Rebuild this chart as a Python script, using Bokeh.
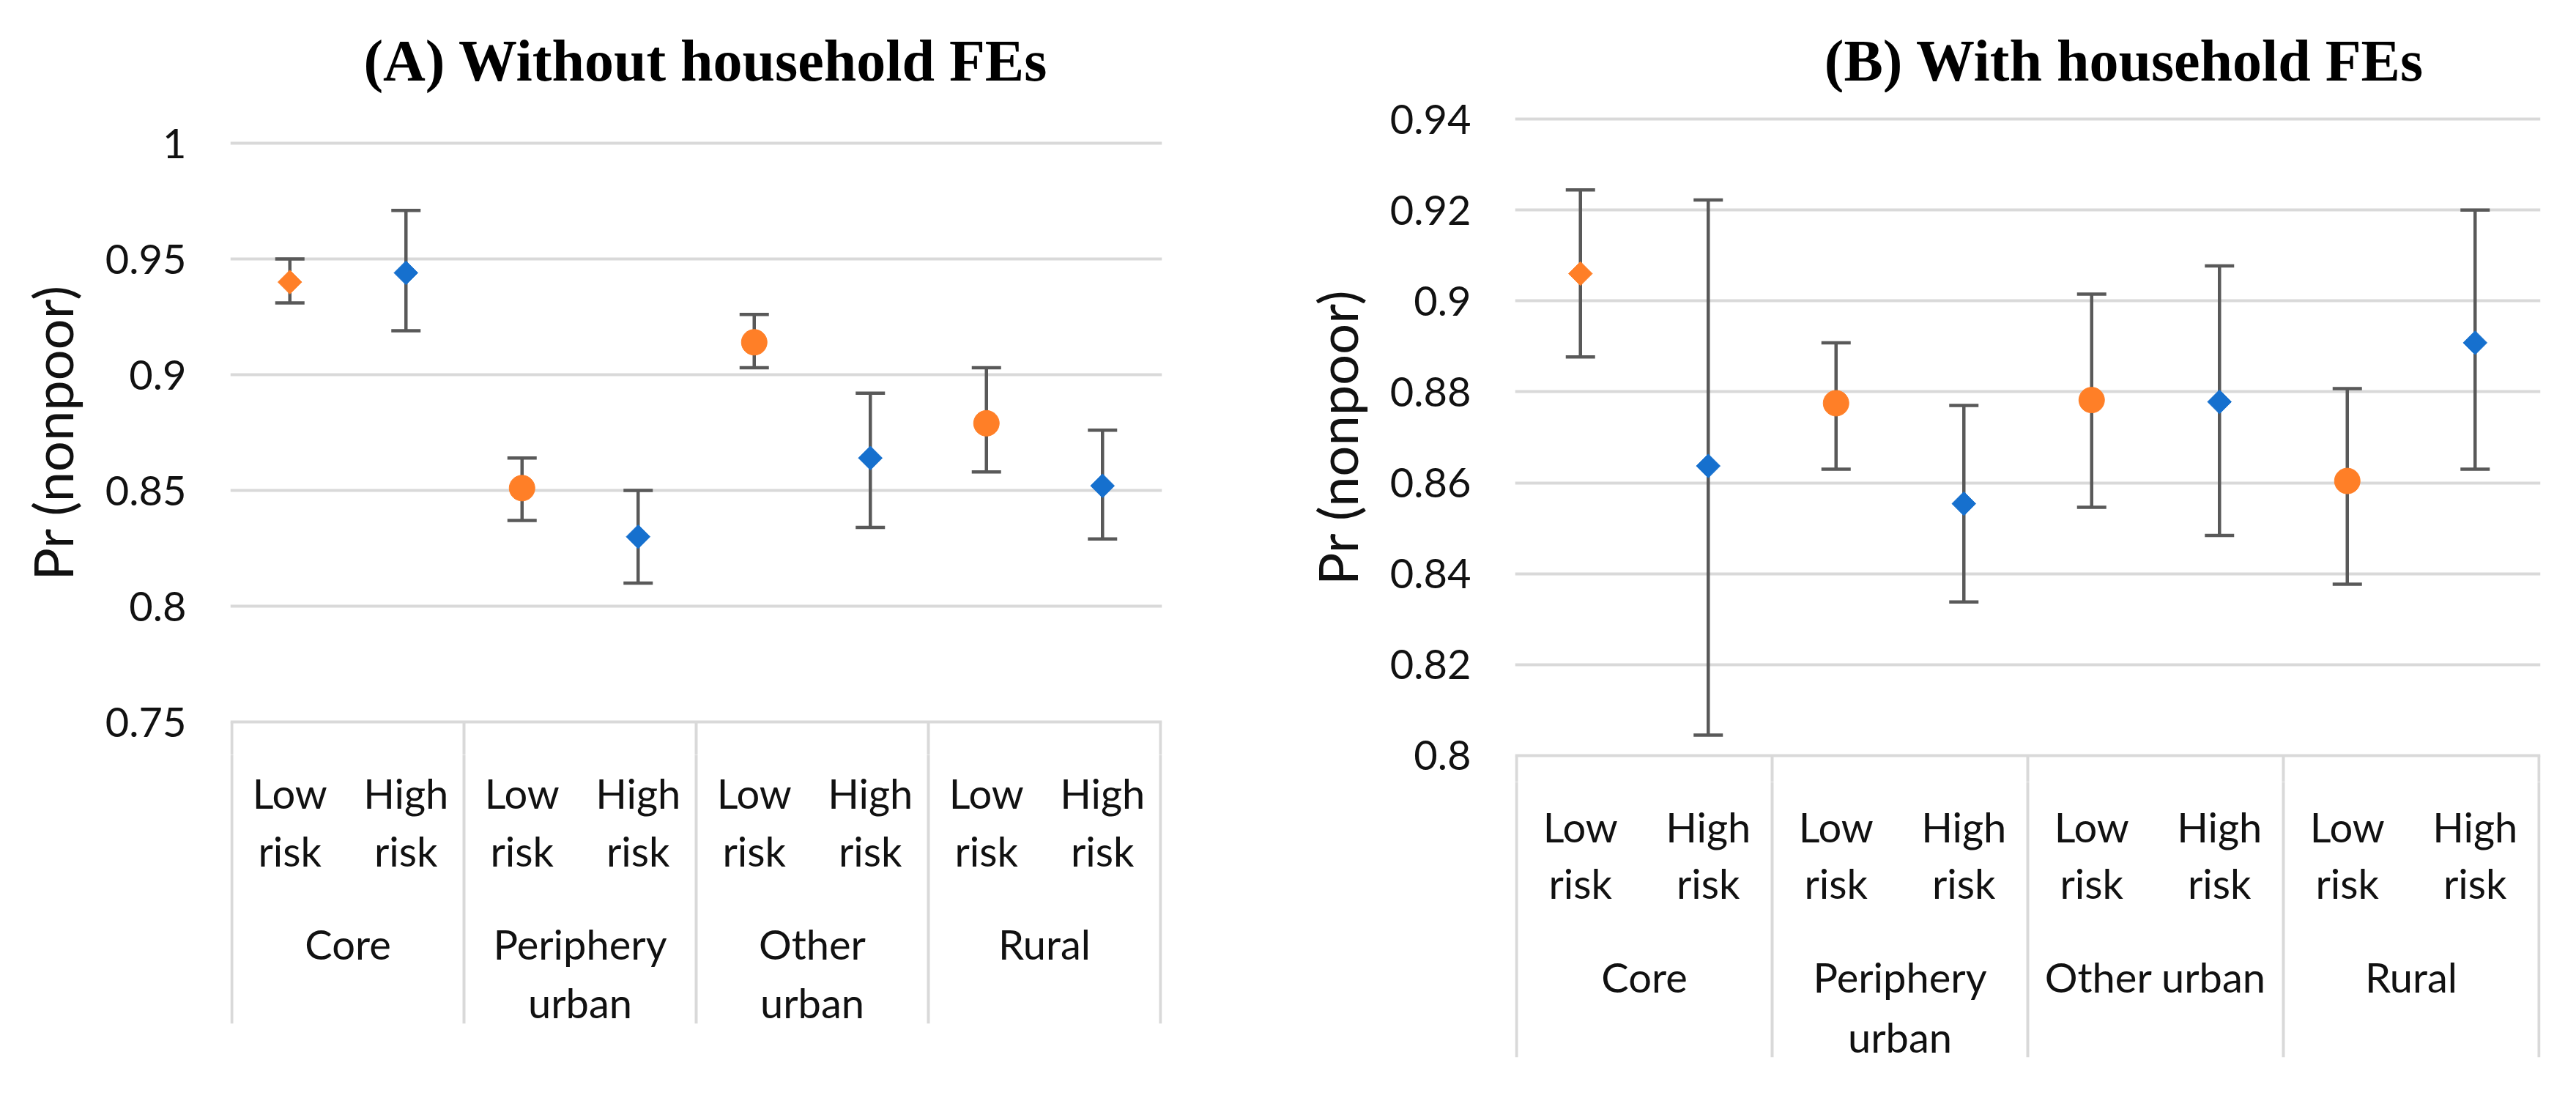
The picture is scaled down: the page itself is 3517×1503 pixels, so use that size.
import numpy as np
from bokeh.plotting import figure
from bokeh.models import Range1d, FixedTicker, ColumnDataSource, Whisker, TeeHead
from bokeh.layouts import row, column
from bokeh.embed import file_html
from bokeh.resources import INLINE
from bokeh.core.properties import value

# ---------------- data ----------------
groups = ["Core", "Periphery urban", "Other urban", "Rural"]
risks = ["Low risk", "High risk"]

title_a = "(A) Without household FEs"
est_a = [0.940, 0.944, 0.851, 0.830, 0.914, 0.864, 0.879, 0.852]
lo_a = [0.931, 0.919, 0.837, 0.810, 0.903, 0.834, 0.858, 0.829]
hi_a = [0.950, 0.971, 0.864, 0.850, 0.926, 0.892, 0.903, 0.876]
ticks_a = [0.75, 0.80, 0.85, 0.90, 0.95, 1.00]
tick_labels_a = ["0.75", "0.8", "0.85", "0.9", "0.95", "1"]

title_b = "(B) With household FEs"
est_b = [0.906, 0.8637, 0.8775, 0.8554, 0.8782, 0.8778, 0.8604, 0.8908]
lo_b = [0.8877, 0.8045, 0.8630, 0.8338, 0.8546, 0.8484, 0.8377, 0.8630]
hi_b = [0.9244, 0.9222, 0.8908, 0.8770, 0.9015, 0.9077, 0.8807, 0.9200]
ticks_b = [0.80, 0.82, 0.84, 0.86, 0.88, 0.90, 0.92, 0.94]
tick_labels_b = ["0.8", "0.82", "0.84", "0.86", "0.88", "0.9", "0.92", "0.94"]

y_label = "Pr (nonpoor)"

# marker shape per point (style)
shapes = ["diamond", "diamond", "circle", "diamond", "circle", "diamond", "circle", "diamond"]

# ---------------- style ----------------
ORANGE = "#FF7F27"
BLUE = "#1670CE"
ERR = "#595959"
GRID = "#D9D9D9"
TXT = "#111111"
SANS = "Lato"
SERIF = "Liberation Serif"
PAGE_TOP = 8    # page margin
TOTAL_H = 1487


def wrap(label, max_chars):
    words = label.split(" ")
    lines, cur = [], ""
    for w in words:
        cand = w if not cur else cur + " " + w
        if len(cand) <= max_chars:
            cur = cand
        else:
            if cur:
                lines.append(cur)
            cur = w
    if cur:
        lines.append(cur)
    return lines


def bare(width, height, x_range, y_range, bl=0, br=0, bb=0):
    f = figure(width=width, height=height, x_range=x_range, y_range=y_range,
               x_axis_location=None, y_axis_location=None,
               toolbar_location=None, output_backend="svg",
               min_border_left=bl, min_border_right=br,
               min_border_top=0, min_border_bottom=bb)
    f.outline_line_color = None
    f.grid.visible = False
    f.background_fill_color = "white"
    f.border_fill_color = "white"
    return f


def panel(title, est, lo, hi, ticks, tick_labels, L):
    n = len(groups) * len(risks)
    k = len(risks)
    xs = [i + 0.5 for i in range(n)]
    cats = [(g, r) for g in groups for r in risks]
    colors = [ORANGE if r == risks[0] else BLUE for (g, r) in cats]
    markers = ["square" if s == "diamond" else "circle" for s in shapes]
    angles = [np.pi / 4 if s == "diamond" else 0.0 for s in shapes]
    sizes = [L["dsize"] if s == "diamond" else L["csize"] for s in shapes]
    bounds = [i * k for i in range(len(groups) + 1)]
    et, eb = L["ext_top"], L["ext_bot"]

    W = L["fig_w"]
    pad_x = 2.0 / L["pxx"]
    x_range = Range1d(-pad_x, n + pad_x)
    frame_w = int(round(n * L["pxx"])) + 4
    br = W - L["bl"] - frame_w

    # ---- title strip ----
    title_h = L["grid_top"] - et - PAGE_TOP
    tf = bare(W, title_h, Range1d(0, W), Range1d(title_h, 0))
    tf.text(x=[L["title_x"]], y=[L["title_base"] - PAGE_TOP], text=[title],
            text_font=value(SERIF), text_font_size="80px", text_font_style="bold",
            text_align="center", text_baseline="alphabetic", text_color="black")

    # ---- plot ----
    y_range = Range1d(ticks[0] - eb / L["pxy"], ticks[-1] + et / L["pxy"])
    span_px = int(round((ticks[-1] - ticks[0]) * L["pxy"]))
    frame_h = span_px + et + eb
    p = figure(width=W, height=frame_h,
               x_range=x_range, y_range=y_range, x_axis_location=None,
               toolbar_location=None, output_backend="svg",
               min_border_left=L["bl"], min_border_right=br,
               min_border_top=0, min_border_bottom=0)
    p.outline_line_color = None
    p.background_fill_color = "white"
    p.border_fill_color = "white"
    p.xgrid.visible = False

    tk = FixedTicker(ticks=ticks)
    p.yaxis.ticker = tk
    p.ygrid.ticker = tk
    p.yaxis.major_label_overrides = {t: s for t, s in zip(ticks, tick_labels)}
    p.yaxis.axis_line_color = None
    p.yaxis.major_tick_line_color = None
    p.yaxis.minor_tick_line_color = None
    p.yaxis.major_tick_out = 0
    p.yaxis.major_tick_in = 0
    p.yaxis.major_label_standoff = L["tick_standoff"]
    p.yaxis.major_label_text_font = SANS
    p.yaxis.major_label_text_font_size = "56px"
    p.yaxis.major_label_text_color = TXT
    p.yaxis.axis_label = y_label
    p.yaxis.axis_label_text_font = SANS
    p.yaxis.axis_label_text_font_size = "74px"
    p.yaxis.axis_label_text_font_style = "normal"
    p.yaxis.axis_label_text_color = TXT
    p.yaxis.axis_label_standoff = L["label_standoff"]
    p.ygrid.grid_line_color = GRID
    p.ygrid.grid_line_width = 4

    # top of the category table (below the lowest tick)
    y_bot = ticks[0] - 2 * eb / L["pxy"]
    p.segment(x0=bounds, y0=[ticks[0]] * len(bounds), x1=bounds,
              y1=[y_bot] * len(bounds), line_color=GRID, line_width=4)

    src = ColumnDataSource(dict(x=xs, est=est, lo=lo, hi=hi, color=colors,
                                marker=markers, angle=angles, size=sizes))
    w = Whisker(source=src, base="x", upper="hi", lower="lo", dimension="height",
                line_color=ERR, line_width=4.5,
                upper_head=TeeHead(size=40, line_color=ERR, line_width=4.5),
                lower_head=TeeHead(size=40, line_color=ERR, line_width=4.5))
    p.add_layout(w)
    p.scatter(x="x", y="est", source=src, marker="marker", angle="angle",
              size="size", fill_color="color", line_color="color", line_width=1)

    # ---- rest of the category table ----
    table_top = L["grid_top"] + span_px + eb
    table_h = TOTAL_H - (title_h + frame_h)
    tbl_frame = L["table_bot"] - table_top
    t = bare(W, table_h, x_range, Range1d(tbl_frame, 0), bl=L["bl"], br=br,
             bb=table_h - tbl_frame)
    t.segment(x0=bounds, y0=[-2] * len(bounds), x1=bounds, y1=[tbl_frame] * len(bounds),
              line_color=GRID, line_width=4)

    tx, ty, tt = [], [], []
    for x, (g, r) in zip(xs, cats):
        for j, line in enumerate(r.split(" ")):
            tx.append(x); ty.append(L["sub_base"][j] - eb); tt.append(line)
    for gi, g in enumerate(groups):
        gx = gi * k + k / 2.0
        for j, line in enumerate(wrap(g, L["wrap"])):
            tx.append(gx); ty.append(L["grp_base"][j] - eb); tt.append(line)
    t.text(x=tx, y=ty, text=tt, text_font=value(SANS), text_font_size="56px",
           text_align="center", text_baseline="alphabetic", text_color=TXT)

    return column(tf, p, t, spacing=0)


LA = dict(pxx=158.5, pxy=3160.0, fig_w=1752, bl=314, grid_top=203, table_bot=1405,
          ext_top=45, ext_bot=45,
          tick_standoff=60, label_standoff=25, title_x=894, title_base=90,
          dsize=23, csize=35,
          sub_base=[97, 176], grp_base=[303, 383], wrap=9)
LB = dict(pxx=174.5, pxy=6207.0, fig_w=1749, bl=316, grid_top=170, table_bot=1451,
          ext_top=36, ext_bot=36,
          tick_standoff=60, label_standoff=25, title_x=1039, title_base=90,
          dsize=23, csize=35,
          sub_base=[97, 174], grp_base=[302, 384], wrap=11)

pa = panel(title_a, est_a, lo_a, hi_a, ticks_a, tick_labels_a, LA)
pb = panel(title_b, est_b, lo_b, hi_b, ticks_b, tick_labels_b, LB)

layout = row(pa, pb, spacing=0)
open("out.html", "w").write(file_html(layout, INLINE, "chart"))
